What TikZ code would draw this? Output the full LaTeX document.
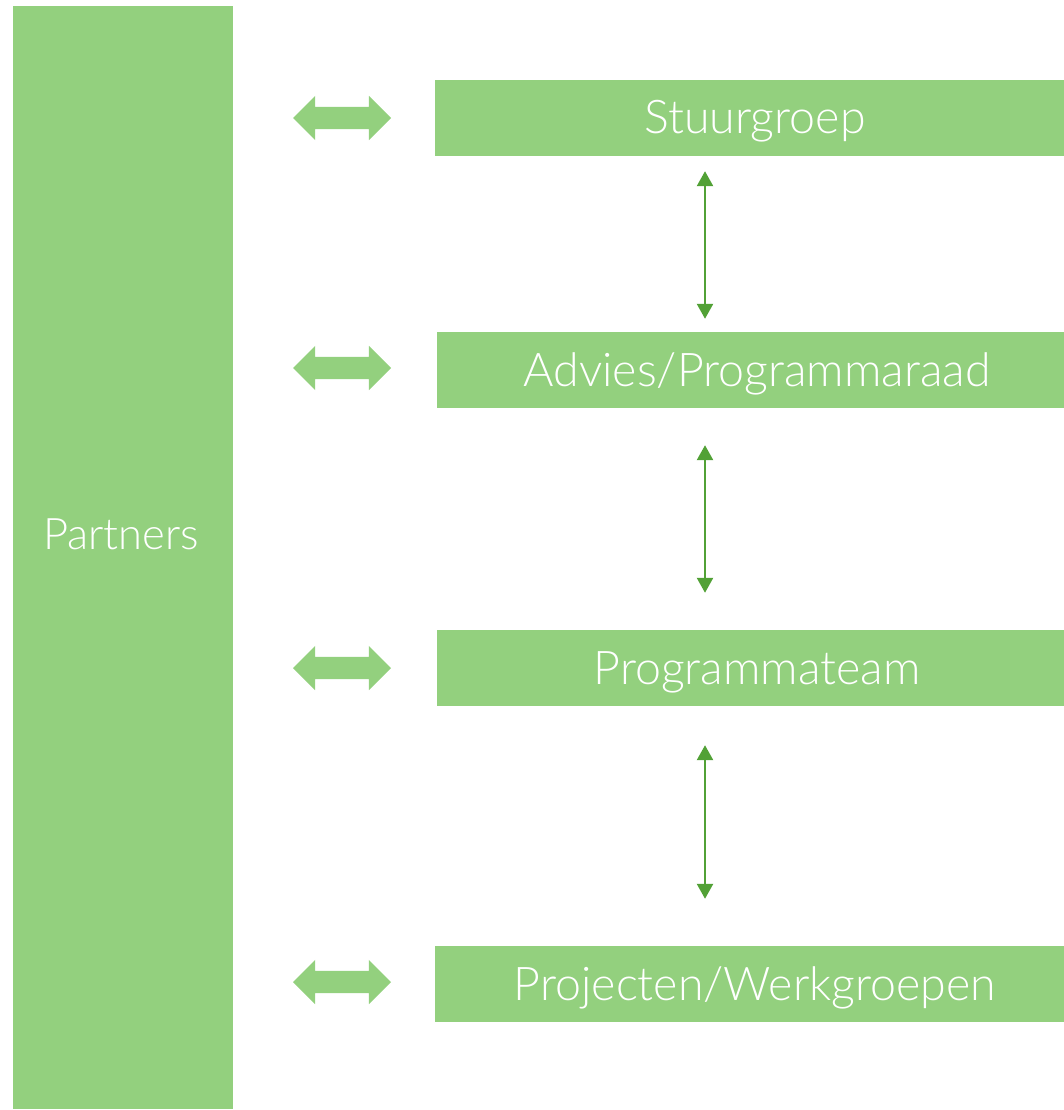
\documentclass[tikz,border=0pt]{standalone}
\usepackage{fontspec}
\setmainfont{Lato Light}
\usetikzlibrary{arrows.meta,shapes.arrows}

\definecolor{lightgreen}{HTML}{93D07E}
\definecolor{darkgreen}{HTML}{52A136}

\tikzset{
  box/.style={fill=lightgreen,text=white,inner sep=0pt,minimum width=640pt,minimum height=76pt,text height=32pt,text depth=0pt,font=\fontsize{46.5}{56}\selectfont},
  partnerbar/.style={fill=lightgreen,inner sep=0pt,minimum width=220pt,minimum height=1103pt},
  barlabel/.style={text=white,inner sep=0pt,text height=28pt,text depth=0pt,font=\fontsize{43.5}{52}\selectfont},
  bigarrow/.style={double arrow,fill=lightgreen,inner xsep=0pt,inner ysep=11pt,minimum height=98pt,double arrow head extend=11pt,double arrow tip angle=90},
  link/.style={draw=darkgreen,line width=2.5pt,{Triangle[width=16pt,length=15pt]}-{Triangle[width=16pt,length=15pt]}}
}

\begin{document}
\begin{tikzpicture}[x=1pt,y=-1pt]
  \useasboundingbox (0,0) rectangle (1064,1110);
  \clip (0,0) rectangle (1064,1110);

  \node[partnerbar] (partners) at (123,557.5) {};
  \node[barlabel] (partnerslabel) at (121,535) {Partners};

  \node[box] (stuur) at (755,118) {Stuurgroep};
  \node[box] (advies) at (757,370) {Advies/Programmaraad};
  \node[box] (team) at (757,668) {Programmateam};
  \node[box] (projecten) at (755,984) {Projecten/Werkgroepen};

  \node foreach \y/\n in {118/a,368/b,668/c,982/d} [bigarrow] (arr\n) at (342,\y) {};

  \coordinate (ax) at (705,0);
  \draw[link,shorten <=15pt,shorten >=13pt] (stuur.south -| ax) -- (advies.north -| ax);
  \draw[link,shorten <=37pt,shorten >=37pt] (advies.south -| ax) -- (team.north -| ax);
  \draw[link,shorten <=39pt,shorten >=47pt] (team.south -| ax) -- (projecten.north -| ax);
\end{tikzpicture}
\end{document}
